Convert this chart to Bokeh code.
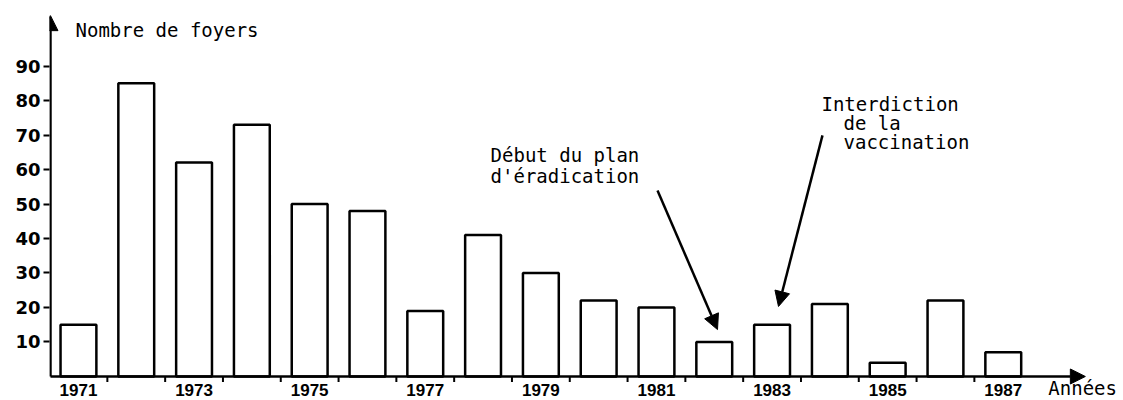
from bokeh.plotting import figure
from bokeh.models import Arrow, NormalHead, FixedTicker, Range1d
from bokeh.core.properties import value
from bokeh.embed import file_html
from bokeh.resources import INLINE

# ---- data ----
years = list(range(1971, 1988))
foyers = [15, 85, 62, 73, 50, 48, 19, 41, 30, 22, 20, 10, 15, 21, 4, 22, 7]
y_ticks = [10, 20, 30, 40, 50, 60, 70, 80, 90]
label_years = [1971, 1973, 1975, 1977, 1979, 1981, 1983, 1985, 1987]
y_title = "Nombre de foyers"
x_title = "Années"
note_lines = ["Début du plan", "d'éradication", "Interdiction", "de la", "vaccination"]

# ---- layout constants ----
AX_X = 1970.516          # where the y axis is drawn
X_START, X_END = 1970.499, 1989.08
Y_START, Y_END = -6.96, 108.99
MONO = "DejaVu Sans Mono"
DY = 2.1                 # baseline correction for text glyphs

note_x = [1978.13, 1978.13, 1983.855, 1984.236, 1984.236]
note_y = [62.0 + DY, 55.9 + DY, 76.8 + DY, 71.3 + DY, 65.8 + DY]

p = figure(width=1123, height=400,
           x_range=Range1d(X_START, X_END), y_range=Range1d(Y_START, Y_END),
           output_backend="svg", toolbar_location=None,
           min_border_left=49, min_border_right=0, min_border_top=0, min_border_bottom=0)
p.background_fill_color = "white"
p.border_fill_color = "white"
p.outline_line_color = None
p.grid.visible = False
p.xaxis.visible = False

yax = p.yaxis[0]
yax.ticker = FixedTicker(ticks=y_ticks)
yax.axis_line_color = None
yax.major_tick_in = 0
yax.major_tick_out = 6
yax.major_tick_line_width = 2
yax.major_tick_line_color = "black"
yax.minor_tick_line_color = None
yax.major_label_text_font = "DejaVu Sans"
yax.major_label_text_font_style = "bold"
yax.major_label_text_font_size = "18px"
yax.major_label_text_color = "black"
yax.major_label_standoff = 3

# bars
p.vbar(x=years, top=foyers, bottom=0, width=0.62,
       fill_color="white", line_color="black", line_width=2.5)

# x axis tick marks between bars
tick_pos = [y + 0.5 for y in years[:-1]]
p.segment(x0=tick_pos, y0=[0] * len(tick_pos), x1=tick_pos, y1=[-1.6] * len(tick_pos),
          line_color="black", line_width=2)

# x labels
p.text(x=label_years, y=[-2.3] * len(label_years), text=[str(y) for y in label_years],
       text_font=value("Liberation Sans"), text_font_style="bold", text_font_size="17px",
       text_align="center", text_baseline="top", text_color="black")

# axes with arrows
head = dict(size=15, fill_color="black", line_color="black")
p.add_layout(Arrow(end=NormalHead(**head), x_start=AX_X, y_start=0, x_end=AX_X, y_end=104.6,
                   line_width=2.5, line_color="black"))
p.add_layout(Arrow(end=NormalHead(**head), x_start=AX_X, y_start=0, x_end=1988.42, y_end=0,
                   line_width=2.5, line_color="black"))

# axis titles
p.text(x=[1970.949], y=[98.26 + DY], text=[y_title], text_font=value(MONO), text_font_size="19px",
       text_align="left", text_baseline="alphabetic", text_color="black")
p.text(x=[1987.78], y=[-3.3], text=[x_title], text_font=value(MONO), text_font_size="19px",
       text_align="left", text_baseline="alphabetic", text_color="black")

# annotations
p.text(x=note_x, y=note_y, text=note_lines, text_font=value(MONO), text_font_size="19px",
       text_align="left", text_baseline="alphabetic", text_color="black")
p.add_layout(Arrow(end=NormalHead(**head), x_start=1981.018, y_start=53.9,
                   x_end=1982.056, y_end=13.6, line_width=2.5, line_color="black"))
p.add_layout(Arrow(end=NormalHead(**head), x_start=1983.872, y_start=69.9,
                   x_end=1983.111, y_end=20.3, line_width=2.5, line_color="black"))

open("out.html", "w").write(file_html(p, INLINE))
